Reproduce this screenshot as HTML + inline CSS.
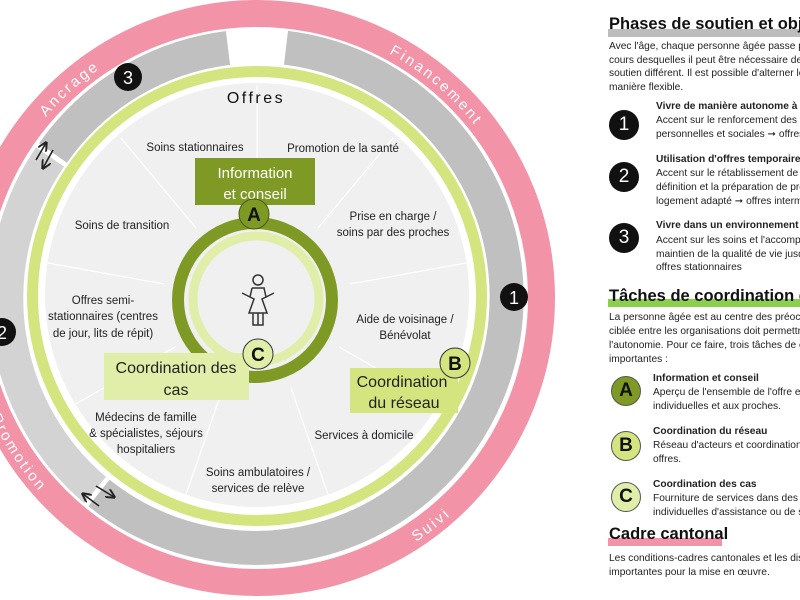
<!DOCTYPE html>
<html><head><meta charset="utf-8"><style>
html,body{margin:0;padding:0;width:800px;height:600px;overflow:hidden;background:#fff;position:relative;font-family:"Liberation Sans",sans-serif;}
#rp{position:absolute;left:0;top:0;width:800px;height:600px;overflow:hidden;}
.t{position:absolute;white-space:nowrap;font-size:10.2px;line-height:14px;color:#222;}
.b{font-weight:bold;}
.h{position:absolute;white-space:nowrap;font-weight:bold;font-size:16.5px;color:#111;}
.bar{position:absolute;height:8px;}
.badge{position:absolute;width:30px;height:30px;border-radius:50%;background:#111;color:#fff;font-size:19px;line-height:30px;text-align:center;}
.lb{position:absolute;width:30px;height:30px;border-radius:50%;border:1px solid #555;box-sizing:border-box;color:#111;font-weight:bold;font-size:19px;line-height:28px;text-align:center;}
</style></head><body>
<svg width="800" height="600" style="position:absolute;left:0;top:0" font-family="Liberation Sans, sans-serif">
<defs>
<marker id="ah" markerWidth="6" markerHeight="6" refX="5" refY="3" orient="auto"><path d="M0,0 L6,3 L0,6" fill="none" stroke="#222" stroke-width="1.2"/></marker>
<path id="top" d="M -21 298 A 278 278 0 0 1 535 298"/>
<path id="bot" d="M -34 298 A 291 291 0 0 0 548 298"/>
</defs>
<circle cx="257" cy="298" r="284.5" fill="none" stroke="#f393a8" stroke-width="27"/>
<g fill="none" stroke-width="34">
<path d="M 286 47.7 A 251 251 0 1 1 99 493" stroke="#c0c0c0"/>
<path d="M 95 490 A 251 251 0 0 1 50 157" stroke="#d3d3d3"/>
<path d="M 53 153 A 251 251 0 0 1 228 48" stroke="#c0c0c0"/>
</g>
<circle cx="257" cy="296" r="224.5" fill="none" stroke="#d4e47e" stroke-width="11"/>
<circle cx="257" cy="295" r="212" fill="#f0f0f0"/>
<g stroke="#fff" stroke-width="1.2">
<line x1="257" y1="205" x2="257" y2="85"/>
<line x1="318" y1="228" x2="393" y2="138"/>
<line x1="350" y1="284" x2="466" y2="263"/>
<line x1="339" y1="347" x2="440" y2="405"/>
<line x1="291" y1="388" x2="330" y2="500"/>
<line x1="223" y1="388" x2="184" y2="500"/>
<line x1="175" y1="347" x2="74" y2="405"/>
<line x1="164" y1="284" x2="48" y2="263"/>
<line x1="196" y1="228" x2="121" y2="138"/>
</g>
<circle cx="256" cy="299" r="63" fill="none" stroke="#e0eeaa" stroke-width="9"/>
<circle cx="255" cy="300" r="77" fill="none" stroke="#7f9a24" stroke-width="12"/>
<g fill="none" stroke="#333" stroke-width="1.5">
<circle cx="258" cy="280" r="5"/>
<path d="M252 288 L264 288 L266 297 L274 293 M250 297 L242 293 M252 288 L250 297 L254 299 L249 313 L267 313 L262 299 L266 297"/>
<path d="M253 313 L253 325 L263 325 L263 313 M258 313 L258 325"/>
</g>
<rect x="195" y="158" width="120" height="47" fill="#7f9a24"/>
<text x="255" y="178" font-size="15" fill="#fff" text-anchor="middle">Information</text>
<text x="255" y="199" font-size="15" fill="#fff" text-anchor="middle">et conseil</text>
<circle cx="254" cy="214" r="15" fill="#7f9a24" stroke="#4a5a15" stroke-width="1"/>
<text x="254" y="221" font-size="19" font-weight="bold" fill="#111" text-anchor="middle">A</text>
<rect x="104" y="353" width="145" height="47" fill="#e0eeaa"/>
<text x="176" y="373" font-size="16" fill="#222" text-anchor="middle">Coordination des</text>
<text x="176" y="395" font-size="16" fill="#222" text-anchor="middle">cas</text>
<circle cx="258" cy="354" r="15" fill="#e0eeaa" stroke="#333" stroke-width="1"/>
<text x="258" y="361" font-size="19" font-weight="bold" fill="#111" text-anchor="middle">C</text>
<rect x="350" y="368" width="108" height="45" fill="#d4e47e"/>
<text x="402" y="387" font-size="16" fill="#222" text-anchor="middle">Coordination</text>
<text x="404" y="408" font-size="16" fill="#222" text-anchor="middle">du réseau</text>
<circle cx="455" cy="363" r="15" fill="#d4e47e" stroke="#333" stroke-width="1"/>
<text x="455" y="370" font-size="19" font-weight="bold" fill="#111" text-anchor="middle">B</text>
<g font-size="11.5" fill="#222" text-anchor="middle">
<text x="256" y="103" font-size="16" letter-spacing="2.5" fill="#111">Offres</text>
<text x="195" y="151">Soins stationnaires</text>
<text x="343" y="152">Promotion de la santé</text>
<text x="122" y="229">Soins de transition</text>
<text x="393" y="220">Prise en charge /</text>
<text x="393" y="236">soins par des proches</text>
<text x="103" y="304">Offres semi-</text>
<text x="103" y="320">stationnaires (centres</text>
<text x="103" y="337">de jour, lits de répit)</text>
<text x="405" y="323">Aide de voisinage /</text>
<text x="405" y="339">Bénévolat</text>
<text x="146" y="421">Médecins de famille</text>
<text x="146" y="437">&amp; spécialistes, séjours</text>
<text x="146" y="453">hospitaliers</text>
<text x="364" y="439">Services à domicile</text>
<text x="258" y="476">Soins ambulatoires /</text>
<text x="258" y="492">services de relève</text>
</g>
<g font-size="15" fill="#fff" letter-spacing="2.5">
<text><textPath href="#top" startOffset="197">Ancrage</textPath></text>
<text><textPath href="#top" startOffset="574">Financement</textPath></text>
<text><textPath href="#bot" startOffset="122">Promotion</textPath></text>
<text><textPath href="#bot" startOffset="625">Suivi</textPath></text>
</g>
<g stroke="#222" stroke-width="1.6" marker-end="url(#ah)">
<line x1="36" y1="160" x2="46" y2="143"/>
<line x1="53" y1="150" x2="43" y2="168"/>
<line x1="99" y1="506" x2="83" y2="494"/>
<line x1="96" y1="486" x2="114" y2="497"/>
</g>
<circle cx="128" cy="77" r="14" fill="#111"/><text x="128" y="84" font-size="18" fill="#fff" text-anchor="middle">3</text>
<circle cx="514" cy="297" r="14" fill="#111"/><text x="514" y="304" font-size="18" fill="#fff" text-anchor="middle">1</text>
<circle cx="2" cy="332" r="14" fill="#111"/><text x="2" y="339" font-size="18" fill="#fff" text-anchor="middle">2</text>
</svg>

<div id="rp">
<div class="bar" style="left:608px;top:29px;width:200px;background:#bdbdbd"></div>
<div class="h" style="left:609px;top:15px">Phases de soutien et objectifs</div>
<div class="t" style="left:609px;top:40px">Avec l'âge, chaque personne âgée passe par différentes phases au</div>
<div class="t" style="left:609px;top:54px">cours desquelles il peut être nécessaire de recourir à un</div>
<div class="t" style="left:609px;top:67px">soutien différent. Il est possible d'alterner les phases de</div>
<div class="t" style="left:609px;top:81px">manière flexible.</div>

<div class="badge" style="left:609px;top:110px">1</div>
<div class="t b" style="left:656px;top:100px">Vivre de manière autonome à domicile</div>
<div class="t" style="left:656px;top:114px">Accent sur le renforcement des ressources</div>
<div class="t" style="left:656px;top:128px">personnelles et sociales ➞ offres de promotion</div>

<div class="badge" style="left:609px;top:162px">2</div>
<div class="t b" style="left:656px;top:153px">Utilisation d'offres temporaires</div>
<div class="t" style="left:656px;top:167px">Accent sur le rétablissement de la santé, la</div>
<div class="t" style="left:656px;top:181px">définition et la préparation de prochaines étapes</div>
<div class="t" style="left:656px;top:195px">logement adapté ➞ offres intermédiaires</div>

<div class="badge" style="left:609px;top:223px">3</div>
<div class="t b" style="left:656px;top:219px">Vivre dans un environnement stationnaire</div>
<div class="t" style="left:656px;top:234px">Accent sur les soins et l'accompagnement et le</div>
<div class="t" style="left:656px;top:248px">maintien de la qualité de vie jusqu'à la fin ➞</div>
<div class="t" style="left:656px;top:261px">offres stationnaires</div>

<div class="bar" style="left:608px;top:299px;width:200px;background:#8ccf4f"></div>
<div class="h" style="left:609px;top:287px">Tâches de coordination et information</div>
<div class="t" style="left:609px;top:311px">La personne âgée est au centre des préoccupations. La coordination</div>
<div class="t" style="left:609px;top:325px">ciblée entre les organisations doit permettre de préserver</div>
<div class="t" style="left:609px;top:339px">l'autonomie. Pour ce faire, trois tâches de coordination sont</div>
<div class="t" style="left:609px;top:353px">importantes :</div>

<div class="lb" style="left:611px;top:376px;background:#7f9a24">A</div>
<div class="t b" style="left:653px;top:372px">Information et conseil</div>
<div class="t" style="left:653px;top:386px">Aperçu de l'ensemble de l'offre et conseils</div>
<div class="t" style="left:653px;top:400px">individuelles et aux proches.</div>

<div class="lb" style="left:611px;top:431px;background:#d4e47e">B</div>
<div class="t b" style="left:653px;top:425px">Coordination du réseau</div>
<div class="t" style="left:653px;top:439px">Réseau d'acteurs et coordination des</div>
<div class="t" style="left:653px;top:453px">offres.</div>

<div class="lb" style="left:611px;top:482px;background:#e0eeaa">C</div>
<div class="t b" style="left:653px;top:478px">Coordination des cas</div>
<div class="t" style="left:653px;top:492px">Fourniture de services dans des situations</div>
<div class="t" style="left:653px;top:506px">individuelles d'assistance ou de soins</div>

<div class="bar" style="left:608px;top:538px;width:114px;background:#f393a8"></div>
<div class="h" style="left:609px;top:525px">Cadre cantonal</div>
<div class="t" style="left:609px;top:552px">Les conditions-cadres cantonales et les dispositions légales sont</div>
<div class="t" style="left:609px;top:566px">importantes pour la mise en œuvre.</div>
</div>
</body></html>
